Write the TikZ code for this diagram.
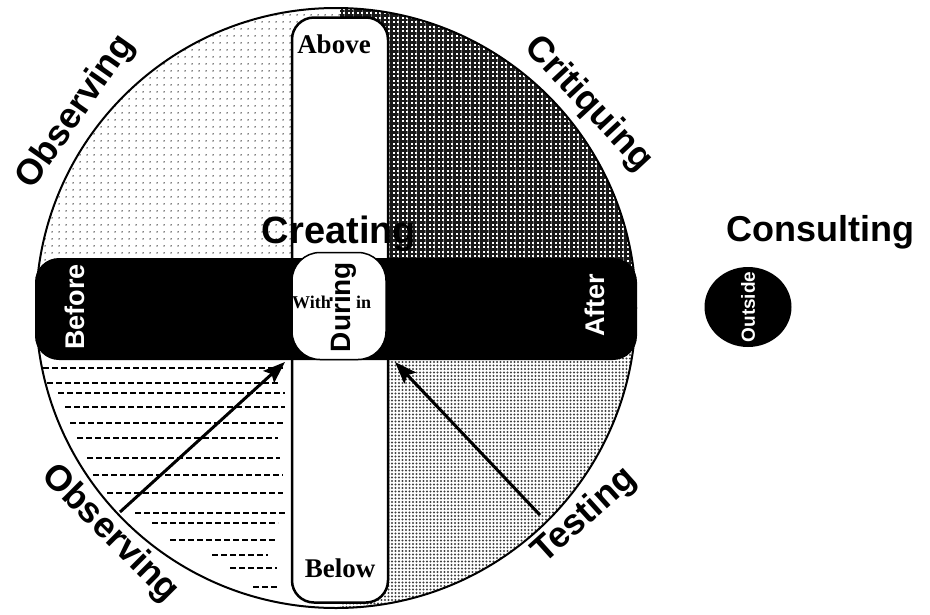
\documentclass[tikz,border=0pt]{standalone}
\usepackage{fontspec}
\setmainfont{Liberation Serif}
\setsansfont{Liberation Sans}
\usepackage{tikz}
\usetikzlibrary{arrows.meta,shapes.geometric,patterns.meta}

\begin{document}
\begin{tikzpicture}[x=1pt,y=-1pt,>={Stealth[length=22pt,width=16pt,inset=4pt]},
                    big/.style={font=\sffamily\bfseries\fontsize{36}{40}\selectfont},
                    bartext/.style={font=\sffamily\bfseries\fontsize{27}{30}\selectfont,text=white,rotate=90},
                    place/.style={font=\rmfamily\bfseries\fontsize{27}{30}\selectfont},
                    hatchline/.style={line width=2.3pt,dash pattern=on 6pt off 3pt},
                    pointer/.style={->,line width=3pt}]
  \useasboundingbox (0,0) rectangle (930,614);
  \coordinate (ctr) at (336,308);

  \begin{scope}
    \clip (ctr) circle (300pt);
    \fill[pattern={Dots[distance=6.5pt,radius=0.8pt]},pattern color=black] (0,0) rectangle (340,309);
    \fill[pattern={Hatch[angle=0,distance=4.5pt,line width=2.4pt]},pattern color=black!90] (340,0) rectangle (700,309);
    \fill[pattern={Dots[distance=3.5pt,radius=1.1pt]},pattern color=black!75] (340,309) rectangle (700,620);
  \end{scope}
  \draw[line width=2pt] (ctr) circle (300pt);

  % dashed lines, lower left
  \foreach \y/\a/\b in {368/43/283, 383/47/280, 393/58/285, 407/65/285, 423/70/285,
                        438/77/278, 458/87/280, 475/93/283, 493/107/283, 513/135/287,
                        523/152/278, 540/170/277, 555/212/268, 568/230/277, 587/253/278}
    \draw[hatchline] (\a,\y) -- (\b,\y);

  \node[draw,line width=2.5pt,fill=white,rounded corners=22,minimum width=96,minimum height=585] (vbar) at (340,310) {};
  \node[fill=black,rounded corners=24,minimum width=602,minimum height=102] (hbar) at (336,309) {};
  \node[draw,line width=1.5pt,fill=white,rounded corners=28,minimum width=94,minimum height=107] (core) at (339,306) {};

  \node[big,anchor=base,font=\sffamily\bfseries\fontsize{38}{40}\selectfont] (creating) at (339,243) {Creating};
  \node[big,rotate=55] (obsTop) at (76,112) {Observing};
  \node[big,rotate=-47] (critique) at (588,104) {Critiquing};
  \node[big,rotate=-45] (obsLow) at (110,534) {Observing};
  \node[big,rotate=42] (testing) at (585,516) {Testing};
  \node[big] (consult) at (820,232) {Consulting};

  \node[place] (above) at (334,44) {Above};
  \node[place] (below) at (340,568) {Below};
  \node[bartext] (before) at (75,307) {Before};
  \node[bartext] (after) at (595,305) {After};

  \node[ellipse,fill=black,minimum width=87,minimum height=80] (outside) at (748,307) {};
  \node[bartext,font=\sffamily\bfseries\fontsize{19}{20}\selectfont] (outsideText) at (outside.center) {Outside};

  \node[font=\rmfamily\bfseries\fontsize{18}{20}\selectfont,anchor=base east,inner sep=0pt] (with) at (331,308) {With};
  \node[font=\rmfamily\bfseries\fontsize{18}{20}\selectfont,anchor=base west,inner sep=0pt] (in) at (356,308) {in};
  \node[font=\sffamily\bfseries\fontsize{28}{30}\selectfont,rotate=90,inner sep=0pt] (during) at (343,307) {During};

  \coordinate (obsFoot) at (120,512);
  \coordinate (obsTip) at (285,362);
  \coordinate (testFoot) at (540,515);
  \coordinate (testTip) at (395,362);
  \path (obsFoot) edge[pointer] (obsTip)
        (testFoot) edge[pointer] (testTip);
\end{tikzpicture}
\end{document}
